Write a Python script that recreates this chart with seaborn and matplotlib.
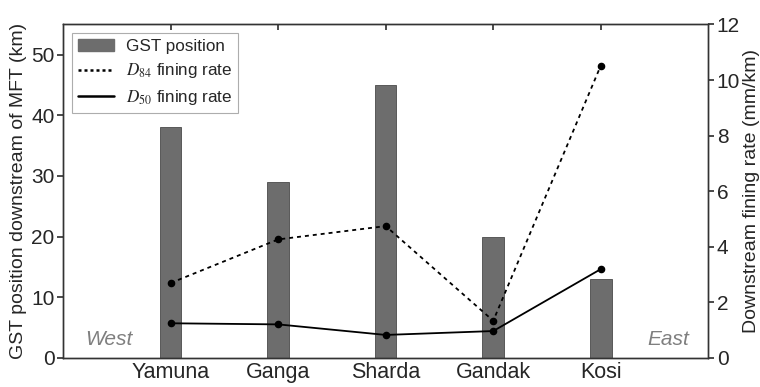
import numpy as np
import pandas as pd
import matplotlib
matplotlib.use("Agg")
import matplotlib.pyplot as plt
import seaborn as sns
from matplotlib.patches import Patch
from matplotlib.lines import Line2D

# Data
rivers = ["Yamuna", "Ganga", "Sharda", "Gandak", "Kosi"]
gst_position = [38, 29, 45, 20, 13]          # km downstream of MFT
d84_rate = [2.69, 4.26, 4.74, 1.33, 10.52]   # mm/km
d50_rate = [1.24, 1.20, 0.82, 0.96, 3.19]    # mm/km

df = pd.DataFrame({"river": rivers, "gst": gst_position,
                   "d84": d84_rate, "d50": d50_rate})

sns.set_theme(style="white")
plt.rcParams["font.family"] = ["Liberation Sans", "DejaVu Sans"]
plt.rcParams["mathtext.fontset"] = "stix"

fig = plt.figure(figsize=(7.6, 3.87), dpi=100)
ax = fig.add_axes([0.083, 0.0757, 0.849, 0.861])

# GST position bars
sns.barplot(data=df, x="river", y="gst", order=rivers, color="#6d6d6d",
            width=0.2, saturation=1, edgecolor="#4a4a4a", linewidth=0.6, ax=ax)

ax.set_ylim(0, 55)
ax.set_yticks(np.arange(0, 51, 10))
ax.set_ylabel("GST position downstream of MFT (km)", fontsize=14, labelpad=3)
ax.set_xlabel("")

# fining rates on right axis
ax2 = ax.twinx()
sns.pointplot(data=df, x="river", y="d84", order=rivers, color="black",
              linestyles=(0, (2.2, 2.2)), markers="o", markersize=4.5,
              linewidth=1.3, ax=ax2)
sns.pointplot(data=df, x="river", y="d50", order=rivers, color="black",
              linestyles="-", markers="o", markersize=4.5,
              linewidth=1.3, ax=ax2)
ax2.set_ylim(0, 12)
ax2.set_yticks(np.arange(0, 13, 2))
ax2.set_ylabel("Downstream fining rate (mm/km)", fontsize=14, labelpad=2)
ax2.set_xlabel("")
ax.set_xlim(-1, 5)

for a in (ax, ax2):
    for s in a.spines.values():
        s.set_color("#333333")
        s.set_linewidth(1.0)
    a.grid(False)

ax.tick_params(axis="y", direction="out", length=4, labelsize=15, pad=2,
               color="#333333")
ax2.tick_params(axis="y", direction="out", length=4, labelsize=15, pad=2,
                color="#333333")
ax.tick_params(axis="x", direction="in", length=4, labelsize=15.5, pad=3,
               top=True, bottom=True, color="#333333")

ax.text(0.035, 0.038, "West", transform=ax.transAxes, fontsize=15,
        style="italic", color="#7f7f7f", ha="left", va="baseline")
ax.text(0.97, 0.038, "East", transform=ax.transAxes, fontsize=15,
        style="italic", color="#7f7f7f", ha="right", va="baseline")

handles = [
    Patch(facecolor="#6d6d6d", edgecolor="#6d6d6d"),
    Line2D([], [], color="black", linestyle=(0, (1.2, 1.2)), linewidth=1.8),
    Line2D([], [], color="black", linestyle="-", linewidth=1.8),
]
labels = ["GST position", r"$D_{84}$ fining rate", r"$D_{50}$ fining rate"]
leg = ax2.legend(handles, labels, loc="upper left", fontsize=12.3,
                 frameon=True, fancybox=False, edgecolor="#999999",
                 borderpad=0.35, handlelength=2.1, handletextpad=0.7,
                 labelspacing=0.45, borderaxespad=0,
                 bbox_to_anchor=(0.014, 0.975))
leg.get_frame().set_linewidth(0.8)

fig.savefig("out.png", dpi=100)
